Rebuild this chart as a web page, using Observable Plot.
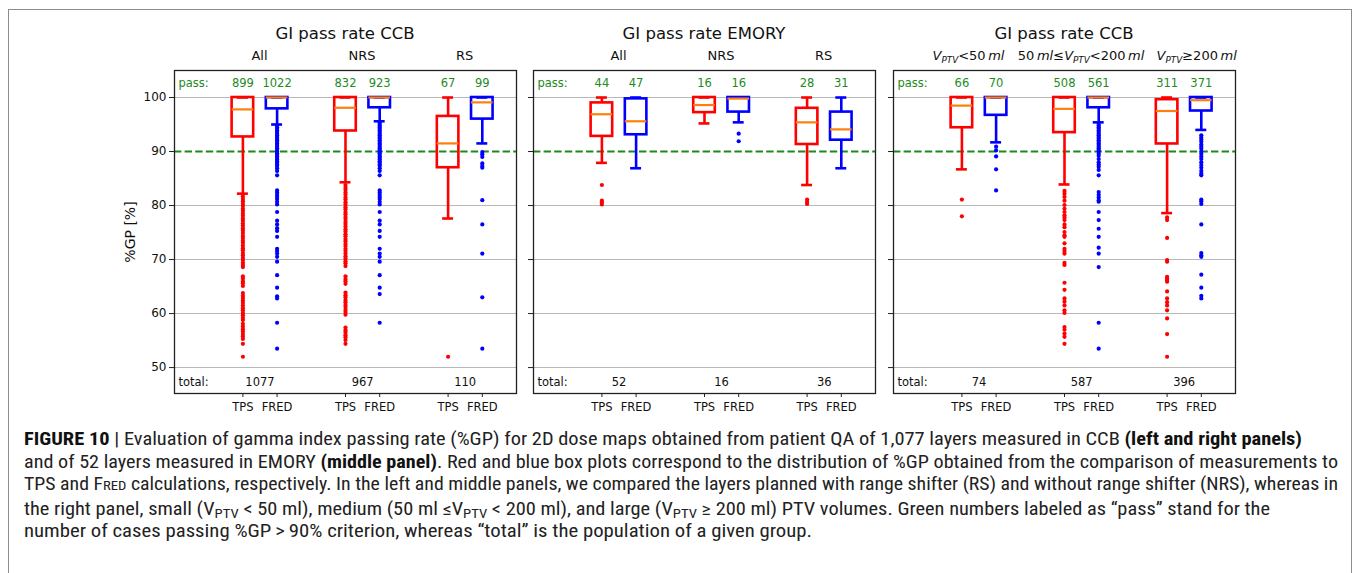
<!DOCTYPE html>
<html>
<head>
<meta charset="utf-8">
<script src="https://cdn.jsdelivr.net/npm/d3@7"></script>
<script src="https://cdn.jsdelivr.net/npm/@observablehq/plot@0.6"></script>
<style>
  html, body { margin: 0; padding: 0; background: #fff; }
  #fig { position: relative; width: 1356px; height: 573px; overflow: hidden; font-family: "DejaVu Sans", sans-serif; }
  #border { position: absolute; left: 8px; top: 9px; width: 1344px; height: 620px; border: 1px solid #8c8c8c; box-sizing: border-box; }
  .panel { position: absolute; top: 0; }
  .lbl { position: absolute; white-space: nowrap; transform: translateX(-50%); line-height: 1; color: #111; }
  .title { font-size: 16.5px; }
  .group { font-size: 13px; }
  .group i { font-style: italic; }
  .group sub { font-size: 0.68em; vertical-align: -0.32em; line-height: 0; font-style: italic; }
  .ylabel { position: absolute; white-space: nowrap; font-size: 14px; line-height: 1; color: #111; transform: translate(-50%, -50%) rotate(-90deg); }
  #caption { position: absolute; left: 24px; top: 428px; font-family: "Liberation Sans Narrow", "Roboto Condensed", "Liberation Sans", sans-serif; font-size: 17.5px; color: #222; }
  #caption .line { line-height: 22.6px; white-space: nowrap; transform-origin: 0 50%; }
  #caption b { font-weight: bold; color: #111; }
  #caption .sc { font-size: 0.74em; }
  #caption sub { font-size: 0.72em; vertical-align: -0.25em; line-height: 0; }
</style>
</head>
<body>
<div id="fig">
  <div id="border"></div>
</div>
<script>
// ---- data ---------------------------------------------------------------
const methods = ["TPS", "FRED", "TPS", "FRED", "TPS", "FRED"];
const boxPositions = [1, 2, 4, 5, 7, 8];
const groupCenters = [1.5, 4.5, 7.5];
const yTicks = [50, 60, 70, 80, 90, 100];
const passThreshold = 90;
const yAxisLabel = "%GP [%]";

const panelTitles = ["GI pass rate CCB", "GI pass rate EMORY", "GI pass rate CCB"];
const ccbGroups = ["All", "NRS", "RS"];
const emoryGroups = ["All", "NRS", "RS"];
const volumeGroups = [
  "<i>V</i><sub>PTV</sub>&lt;50\u2009<i>ml</i>",
  "50\u2009<i>ml</i>\u2264<i>V</i><sub>PTV</sub>&lt;200\u2009<i>ml</i>",
  "<i>V</i><sub>PTV</sub>\u2265200\u2009<i>ml</i>"
];

// box statistics per box: [lower whisker, Q1, median, Q3, upper whisker]
const ccbStats = [
  [82.2, 92.7, 97.8, 100, 100],
  [95.0, 97.9, 100, 100, 100],
  [84.3, 93.8, 98.1, 100, 100],
  [95.6, 98.1, 100, 100, 100],
  [77.6, 87.0, 91.5, 96.5, 100],
  [91.5, 96.0, 99.1, 100, 100]
];
const emoryStats = [
  [87.9, 92.8, 96.9, 99.0, 100],
  [86.9, 93.1, 95.6, 99.75, 100],
  [95.2, 97.2, 98.6, 100, 100],
  [95.4, 97.3, 99.8, 100, 100],
  [83.8, 91.3, 95.4, 98.0, 100],
  [86.9, 92.1, 94.1, 97.3, 100]
];
const volumeStats = [
  [86.7, 94.4, 98.5, 100, 100],
  [91.7, 96.7, 100, 100, 100],
  [83.9, 93.5, 97.9, 100, 100],
  [95.4, 98.1, 100, 100, 100],
  [78.6, 91.4, 97.5, 99.6, 100],
  [94.0, 97.5, 99.5, 100, 100]
];

// outliers per box
const ccbOutliers = [
  [81.7, 81.2, 80.8, 80.3, 79.9, 79.4, 79.0, 78.5, 78.1, 77.6, 77.2, 76.7, 76.3, 75.8, 75.4, 74.9, 74.4, 74.0, 73.5, 73.1, 72.6, 72.1, 71.7, 71.2, 70.8, 70.3, 69.9, 69.4, 69.0, 68.6, 66.9, 66.5, 66.0, 65.6, 65.1, 63.8, 63.3, 62.9, 62.4, 62.0, 61.5, 61.0, 60.6, 60.1, 59.7, 59.2, 58.8, 58.1, 57.6, 57.1, 56.7, 56.2, 55.8, 55.3, 54.4, 52.0],
  [94.8, 94.5, 94.2, 93.9, 93.6, 93.3, 93.0, 92.7, 92.4, 92.1, 91.8, 91.5, 91.2, 90.9, 90.6, 90.3, 90.0, 89.7, 89.4, 89.1, 88.8, 88.5, 88.2, 87.9, 87.6, 87.3, 86.9, 86.4, 85.6, 82.8, 82.4, 82.0, 81.6, 81.2, 80.7, 80.2, 78.8, 77.2, 76.5, 75.8, 75.3, 74.2, 72.0, 71.6, 71.1, 70.5, 69.6, 67.1, 64.8, 63.2, 62.8, 58.3, 53.5],
  [83.8, 83.3, 82.9, 82.4, 82.0, 81.5, 81.1, 80.6, 80.2, 79.7, 79.3, 78.8, 78.4, 77.9, 77.5, 77.0, 76.6, 76.1, 75.6, 75.2, 74.7, 74.3, 73.8, 73.4, 72.9, 72.5, 72.0, 71.6, 71.1, 70.6, 70.2, 69.7, 69.3, 68.8, 66.9, 66.4, 66.0, 65.5, 63.9, 63.4, 63.0, 62.5, 62.1, 61.6, 61.2, 60.7, 60.3, 59.8, 57.4, 56.9, 56.5, 56.0, 55.6, 55.1, 54.4],
  [95.4, 95.1, 94.8, 94.5, 94.2, 93.9, 93.6, 93.3, 93.0, 92.7, 92.4, 92.1, 91.8, 91.5, 91.2, 90.9, 90.6, 90.3, 90.0, 89.7, 89.4, 89.1, 88.8, 88.5, 88.2, 87.9, 87.6, 87.3, 86.9, 86.4, 85.6, 82.8, 82.4, 82.0, 81.6, 81.2, 80.7, 80.2, 78.8, 77.2, 76.5, 75.3, 74.2, 72.0, 71.1, 70.5, 69.6, 67.1, 64.8, 63.6, 58.3],
  [52.0],
  [89.9, 89.5, 89.0, 87.8, 87.3, 87.0, 81.0, 76.5, 71.1, 63.0, 53.5]
];
const emoryOutliers = [
  [83.8, 80.9, 80.6, 80.2],
  [],
  [],
  [93.3, 91.9],
  [81.1, 80.7, 80.3],
  []
];
const volumeOutliers = [
  [81.1, 78.0],
  [90.9, 90.2, 89.1, 86.7, 82.8],
  [82.7, 82.2, 81.6, 80.9, 80.1, 79.4, 78.8, 78.2, 77.8, 77.3, 76.5, 76.0, 75.1, 74.5, 74.2, 73.0, 72.0, 71.6, 71.1, 69.4, 69.0, 65.7, 64.4, 62.8, 62.2, 61.5, 60.6, 60.1, 57.5, 57.0, 56.3, 55.7, 54.4],
  [95.1, 94.8, 94.5, 94.2, 93.9, 93.6, 93.3, 93.0, 92.7, 92.4, 92.1, 91.8, 91.5, 91.2, 90.9, 90.6, 90.3, 90.0, 89.6, 89.2, 88.6, 88.0, 87.6, 87.2, 86.6, 85.6, 82.5, 82.0, 81.5, 81.0, 80.7, 78.8, 77.3, 75.7, 74.2, 72.2, 71.1, 68.6, 58.3, 53.5],
  [77.8, 77.3, 74.0, 69.9, 69.6, 66.8, 66.5, 66.2, 65.9, 64.1, 62.8, 62.1, 61.5, 60.6, 59.1, 56.2, 52.0],
  [93.0, 92.6, 92.2, 91.8, 91.3, 90.9, 90.5, 90.0, 89.6, 89.1, 88.6, 88.0, 87.5, 87.0, 86.4, 85.9, 85.6, 81.1, 80.8, 80.3, 76.5, 71.2, 70.8, 70.5, 67.2, 64.8, 63.3, 62.8]
];

const ccbPass = [899, 1022, 832, 923, 67, 99];
const emoryPass = [44, 47, 16, 16, 28, 31];
const volumePass = [66, 70, 508, 561, 311, 371];
const ccbTotal = [1077, 967, 110];
const emoryTotal = [52, 16, 36];
const volumeTotal = [74, 587, 396];

// ---- styling ------------------------------------------------------------
const methodColor = {TPS: "#ff0000", FRED: "#0000ff"};
const medianColor = "#ff7f0e";
const passColor = "#1d8a1d";
const boxHalf = 0.315;
const capHalf = 0.16;
const passRow = 102.6;
const totalRow = 47.3;

function drawPanel({stats, outliers, passes, totals, yLabels, marginLeft}) {
  const boxes = stats.map((s, i) => ({
    pos: boxPositions[i], lo: s[0], q1: s[1], med: s[2], q3: s[3], hi: s[4],
    color: methodColor[methods[i]]
  }));
  const fliers = outliers.flatMap((vals, i) =>
    vals.map(v => ({pos: boxPositions[i], v, color: methodColor[methods[i]]})));

  const axisY = yLabels
    ? Plot.axisY({ticks: yTicks, tickSize: 5, tickPadding: 3, fontSize: 12, label: null, stroke: "#222"})
    : Plot.axisY({ticks: yTicks, tickSize: 5, tickFormat: () => "", label: null, stroke: "#222"});

  const marks = [
    Plot.ruleY(yTicks.filter(t => t !== passThreshold), {stroke: "#b8b8b8", strokeWidth: 1.1}),
    Plot.ruleY([passThreshold], {stroke: passColor, strokeWidth: 2, strokeDasharray: "7.4,3.2"}),
    Plot.rect(boxes, {x1: d => d.pos - boxHalf, x2: d => d.pos + boxHalf, y1: "q1", y2: "q3",
      stroke: "color", fill: "none", strokeWidth: 2.6, strokeLinejoin: "miter"}),
    Plot.ruleX(boxes, {x: "pos", y1: "lo", y2: "q1", stroke: "color", strokeWidth: 2.6}),
    Plot.ruleX(boxes, {x: "pos", y1: "q3", y2: "hi", stroke: "color", strokeWidth: 2.6}),
    Plot.ruleY(boxes, {y: "lo", x1: d => d.pos - capHalf, x2: d => d.pos + capHalf, stroke: "color", strokeWidth: 2.6}),
    Plot.ruleY(boxes, {y: "hi", x1: d => d.pos - capHalf, x2: d => d.pos + capHalf, stroke: "color", strokeWidth: 2.6}),
    Plot.ruleY(boxes, {y: "med", x1: d => d.pos - boxHalf, x2: d => d.pos + boxHalf, stroke: medianColor, strokeWidth: 2.2}),
    Plot.dot(fliers, {x: "pos", y: "v", r: 2.1, fill: "color", stroke: "none"}),
    Plot.text(["pass:"], {x: -1, y: passRow, dx: 4, textAnchor: "start", fill: passColor, fontSize: 11.5}),
    Plot.text(passes, {x: (d, i) => boxPositions[i], y: passRow, text: d => String(d), fill: passColor, fontSize: 11.5}),
    Plot.text(["total:"], {x: -1, y: totalRow, dx: 4, textAnchor: "start", fill: "#111", fontSize: 11.5}),
    Plot.text(totals, {x: (d, i) => groupCenters[i], y: totalRow, text: d => String(d), fill: "#111", fontSize: 11.5}),
    Plot.frame({stroke: "#222", strokeWidth: 1.3}),
    Plot.axisX({ticks: boxPositions, tickFormat: (d, i) => methods[i], tickSize: 4, tickPadding: 5,
      fontSize: 11.5, label: null, stroke: "#222"}),
    axisY
  ];

  return Plot.plot({
    width: marginLeft + 342 + 8,
    height: 433,
    marginTop: 70,
    marginBottom: 40,
    marginLeft,
    marginRight: 8,
    x: {domain: [-1, 9]},
    y: {domain: [45.2, 105]},
    color: {type: "identity"},
    style: {background: "transparent", fontFamily: "DejaVu Sans, sans-serif", fontSize: "12px", color: "#111", overflow: "visible"},
    marks
  });
}

const fig = document.getElementById("fig");
const panels = [
  {left: 0, marginLeft: 174, stats: ccbStats, outliers: ccbOutliers, passes: ccbPass, totals: ccbTotal, yLabels: true, groups: ccbGroups, groupShift: [0, 0, 0]},
  {left: 520, marginLeft: 13, stats: emoryStats, outliers: emoryOutliers, passes: emoryPass, totals: emoryTotal, yLabels: false, groups: emoryGroups, groupShift: [0, 0, 0]},
  {left: 880, marginLeft: 13, stats: volumeStats, outliers: volumeOutliers, passes: volumePass, totals: volumeTotal, yLabels: false, groups: volumeGroups, groupShift: [-10, 0, 13]}
];

panels.forEach((p, k) => {
  const chart = drawPanel(p);
  const holder = document.createElement("div");
  holder.className = "panel";
  holder.style.left = p.left + "px";
  holder.style.width = (p.marginLeft + 350) + "px";
  holder.appendChild(chart);
  fig.appendChild(holder);

  const sx = chart.scale("x");
  const sy = chart.scale("y");
  // panel title centred over the frame
  const title = document.createElement("div");
  title.className = "lbl title";
  title.textContent = panelTitles[k];
  title.style.left = (p.left + (sx.apply(-1) + sx.apply(9)) / 2) + "px";
  title.style.top = "26px";
  fig.appendChild(title);
  // group labels above each pair of boxes
  p.groups.forEach((g, j) => {
    const el = document.createElement("div");
    el.className = "lbl group";
    el.innerHTML = g;
    el.style.left = (p.left + sx.apply(groupCenters[j]) + p.groupShift[j]) + "px";
    el.style.top = "49px";
    fig.appendChild(el);
  });
  // vertical axis title, left of the first panel
  if (p.yLabels) {
    const yl = document.createElement("div");
    yl.className = "ylabel";
    yl.textContent = yAxisLabel;
    yl.style.left = (p.left + sx.apply(-1) - 44) + "px";
    yl.style.top = ((sy.apply(45.2) + sy.apply(105)) / 2) + "px";
    fig.appendChild(yl);
  }
});

// caption
const captionLines = [
  '<b>FIGURE 10</b> | Evaluation of gamma index passing rate (%GP) for 2D dose maps obtained from patient QA of 1,077 layers measured in CCB <b>(left and right panels)</b>',
  'and of 52 layers measured in EMORY <b>(middle panel)</b>. Red and blue box plots correspond to the distribution of %GP obtained from the comparison of measurements to',
  'TPS and F<span class="sc">RED</span> calculations, respectively. In the left and middle panels, we compared the layers planned with range shifter (RS) and without range shifter (NRS), whereas in',
  'the right panel, small (V<sub>PTV</sub> &lt; 50 ml), medium (50 ml \u2264V<sub>PTV</sub> &lt; 200 ml), and large (V<sub>PTV</sub> \u2265 200 ml) PTV volumes. Green numbers labeled as \u201cpass\u201d stand for the',
  'number of cases passing %GP\u2009&gt;\u200990% criterion, whereas \u201ctotal\u201d is the population of a given group.'
];
const captionWidths = [1278, 1314, 1314, 1246, 788];
const cap = document.createElement("div");
cap.id = "caption";
fig.appendChild(cap);
captionLines.forEach((html, i) => {
  const line = document.createElement("div");
  line.className = "line";
  const span = document.createElement("span");
  span.innerHTML = html;
  line.appendChild(span);
  cap.appendChild(line);
  const w = span.getBoundingClientRect().width;
  line.style.transform = `scaleX(${captionWidths[i] / w})`;
});
</script>
</body>
</html>
